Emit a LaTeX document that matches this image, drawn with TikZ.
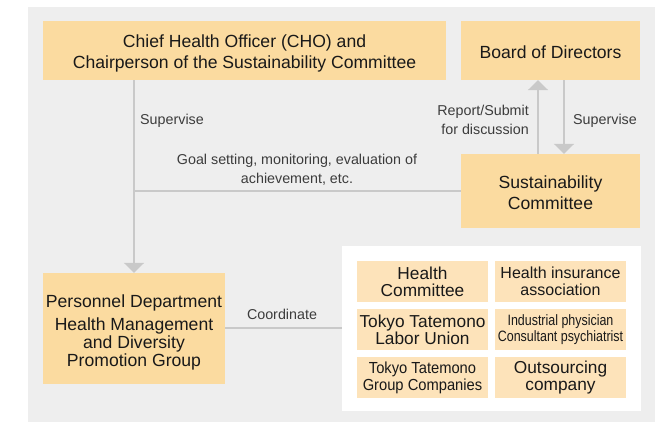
\documentclass[tikz,border=0pt]{standalone}
\usepackage{fontspec}
\setmainfont{Liberation Sans}
\newfontfamily\narrowfont[FakeStretch=0.83]{Liberation Sans}
\newfontfamily\semifont[FakeStretch=0.92]{Liberation Sans}
\usetikzlibrary{arrows.meta}
\definecolor{bgGray}{HTML}{EEEEEE}
\definecolor{boxOrange}{HTML}{FBDBA0}
\definecolor{cellOrange}{HTML}{FDE3BA}
\definecolor{lineGray}{HTML}{C9C9C9}
\definecolor{lblGray}{HTML}{3C3C3C}
\newcommand{\dnstrut}[1]{\rule{0pt}{#1}}

\begin{document}
\begin{tikzpicture}[x=1pt, y=-1pt,
	mainbox/.style={fill=boxOrange, inner sep=0pt, align=center, text=black!90, font=\fontsize{17.6}{21}\selectfont},
	cellbox/.style={fill=cellOrange, inner sep=0pt, minimum width=131pt, minimum height=41pt, align=center, text=black!90, font=\fontsize{17.3}{17}\selectfont},
	lbl/.style={text=lblGray, inner sep=0pt, font=\fontsize{14.3}{19}\selectfont},
	conn/.style={draw=lineGray, line width=2pt},
	headarrow/.style={-{Triangle[width=20pt,length=10pt]}}
	]
	\useasboundingbox (0,0) rectangle (665,422);
	% Фон
	\fill[bgGray] (28,7) rectangle (655,422);
	
	\node[mainbox, minimum width=403pt, minimum height=59pt] (cho) at (244.5,50.5) {\dnstrut{19pt}Chief Health Officer (CHO) and\\Chairperson of the Sustainability Committee};
	\node[mainbox, minimum width=179pt, minimum height=59pt] (board) at (550.5,50.5) {\dnstrut{17pt}Board of Directors};
	\node[mainbox, minimum width=179pt, minimum height=74pt] (sust) at (550.5,191) {\dnstrut{17pt}Sustainability\\Committee};
	\node[mainbox, minimum width=182pt, minimum height=111pt, font=\fontsize{17.6}{18}\selectfont] (pers) at (134,328.5) {\dnstrut{21pt}Personnel Department\\[5pt]Health Management\\and Diversity\\Promotion Group};
	
	% Группа участников
	\node[fill=white, minimum width=299pt, minimum height=165pt] (grp) at (491.5,328.5) {};
	\node[cellbox] (hc) at (422.5,281.5) {Health\\Committee};
	\node[cellbox, font=\fontsize{16}{17}\selectfont] (hia) at (560.5,281.5) {Health insurance\\association};
	\node[cellbox] (union) at (422.5,329.5) {Tokyo Tatemono\\Labor Union};
	\node[cellbox, font=\narrowfont\fontsize{15}{16}\selectfont] (doc) at (560.5,329.5) {Industrial physician\\Consultant psychiatrist};
	\node[cellbox, font=\semifont\fontsize{16}{17}\selectfont] (grpco) at (422.5,377.5) {Tokyo Tatemono\\Group Companies};
	\node[cellbox] (outs) at (560.5,377.5) {Outsourcing\\company};
	
	% Связи
	\draw[conn, headarrow] (cho.south -| pers.north) -- (pers.north);
	\draw[conn] (sust.west) -- (sust.west -| pers.north);
	\draw[conn, headarrow] ([xshift=-12.5pt]sust.north) -- ([xshift=-12.5pt]board.south);
	\draw[conn, headarrow] ([xshift=13.5pt]board.south) -- ([xshift=13.5pt]sust.north);
	\draw[conn] (pers.east) -- (pers.east -| grp.west);
	
	\node[lbl, anchor=west] (sup1) at (140,121) {Supervise};
	\node[lbl, align=center] (goal) at (297,170) {Goal setting, monitoring, evaluation of\\achievement, etc.};
	\node[lbl, align=right, anchor=east] (report) at (529,119.5) {Report/Submit\\for discussion};
	\node[lbl, anchor=west] (sup2) at (573,121) {Supervise};
	\node[lbl] (coord) at (282,314) {Coordinate};
\end{tikzpicture}
\end{document}
